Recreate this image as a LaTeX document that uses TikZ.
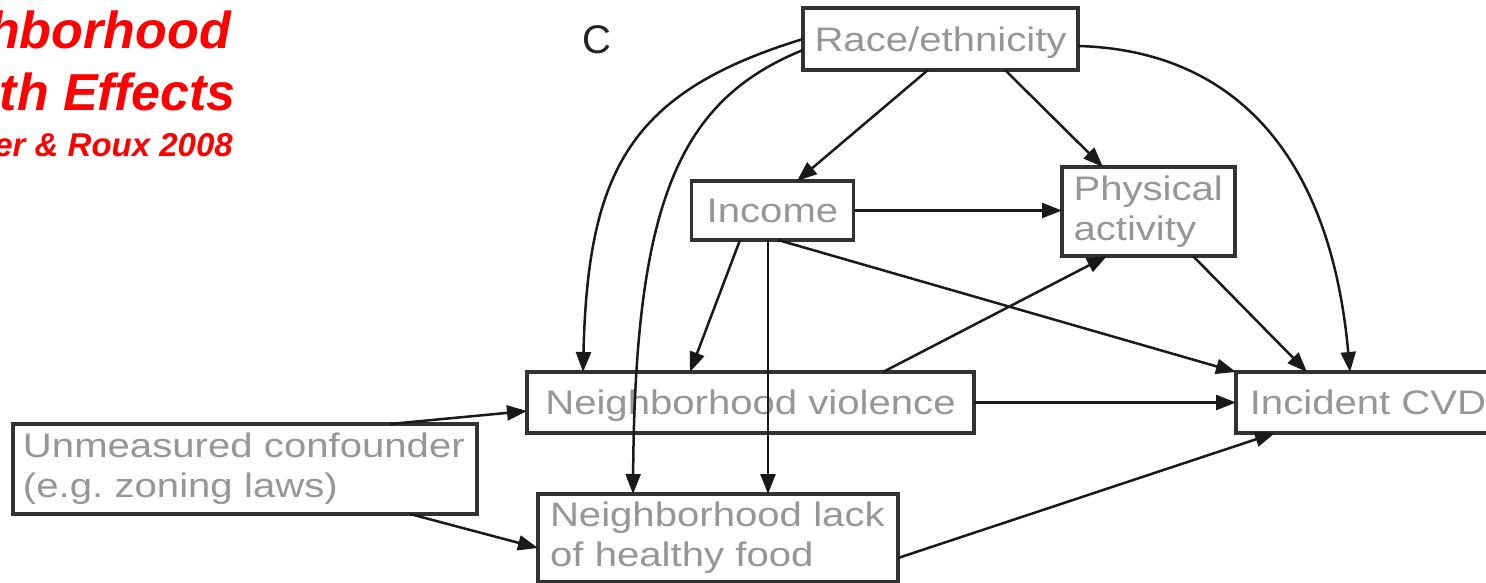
\documentclass[tikz,border=0pt]{standalone}
\usepackage{fontspec}
\setmainfont{Liberation Sans}
\newfontfamily\boxfont[FakeStretch=1.18]{Liberation Sans}
\usetikzlibrary{arrows.meta}
\definecolor{boxtext}{RGB}{150,150,150}
\definecolor{boxline}{RGB}{50,50,50}
\definecolor{arrowline}{RGB}{25,25,25}
\definecolor{titlered}{RGB}{255,0,0}
\definecolor{panellabel}{RGB}{34,34,34}
\frenchspacing
\begin{document}
\begin{tikzpicture}[x=1pt,y=-1pt,
  dagbox/.style={draw=boxline, line width=3.2pt, fill=white, text=boxtext, inner sep=0pt, outer sep=0pt, font=\boxfont\fontsize{34}{40}\selectfont},
  oneline/.style={dagbox, text height=24.3pt, text depth=0pt},
  twoline/.style={dagbox, align=left},
  conn/.style={draw=arrowline, line width=2.5pt, -{Triangle[length=20pt,width=15pt]}},
  ttl/.style={text=titlered, inner sep=0pt, anchor=base east, font=\bfseries\itshape\fontsize{#1}{#1}\selectfont}
]
\useasboundingbox (0,0) rectangle (1486,583);

% title fragments
\node[ttl=52] (t1) at (231,49) {hborhood};
\node[ttl=52] (t2) at (236,111) {th Effects};
\node[ttl=33] (t3) at (233,157) {er \& Roux 2008};

% panel label
\node[anchor=base west, inner sep=0pt, text=panellabel, font=\fontsize{40}{40}\selectfont] (lbl) at (582,54) {C};

% boxes
\node[oneline, minimum width=275pt, minimum height=62pt] (race) at (940.5,39) {Race/ethnicity};
\node[oneline, minimum width=162pt, minimum height=59pt] (income) at (772.5,210.5) {Income};
\node[twoline, text width=150pt, inner xsep=11.5pt, minimum height=89pt] (phys) at (1148.5,211.5) {Physical\\activity};
\node[oneline, minimum width=447pt, minimum height=61pt] (nv) at (750.5,402.5) {Neighborhood violence};
\node[oneline, minimum width=264pt, minimum height=61pt] (cvd) at (1368,402.5) {Incident CVD};
\node[twoline, text width=444pt, inner xsep=10pt, minimum height=90pt] (unm) at (245,469) {Unmeasured confounder\\(e.g. zoning laws)};
\node[twoline, text width=336pt, inner xsep=12pt, minimum height=88pt] (lack) at (718,538) {Neighborhood lack\\of healthy food};

% connectors
\coordinate (incb) at ([xshift=-4.5pt]income.south);
\draw[conn] (race.west) .. controls (630,92) and (588,170) .. ([xshift=-167.5pt]nv.north);
\draw[conn] ([yshift=-11pt]race.west) .. controls (680,100) and (635,200) .. ([xshift=-85pt]lack.north);
\draw[conn] ([xshift=-12.5pt]race.south) -- ([xshift=24.5pt]income.north);
\draw[conn] ([xshift=64.5pt]race.south) -- ([xshift=-45.5pt]phys.north);
\draw[conn] ([yshift=-7pt]race.east) .. controls (1230,50) and (1330,150) .. ([xshift=-18pt]cvd.north);
\draw[conn] (income.east) -- (income.east -| phys.west);
\draw[conn] ([xshift=-32.5pt]income.south) -- ([xshift=-60.5pt]nv.north);
\draw[conn] (incb) -- (incb |- lack.north);
\draw[conn] ([xshift=5.5pt]income.south) -- (cvd.north west);
\draw[conn] ([xshift=132.5pt]nv.north) -- ([xshift=-41.5pt]phys.south);
\draw[conn] (nv.east) -- (cvd.west);
\draw[conn] ([xshift=44.5pt]phys.south) -- ([xshift=-61pt]cvd.north);
\draw[conn] ([yshift=-20pt]lack.east) -- ([xshift=-93pt]cvd.south);
\draw[conn] ([xshift=145pt]unm.north) -- ([yshift=-8.5pt]nv.west);
\draw[conn] ([xshift=165pt]unm.south) -- ([yshift=-10pt]lack.west);
\end{tikzpicture}
\end{document}
